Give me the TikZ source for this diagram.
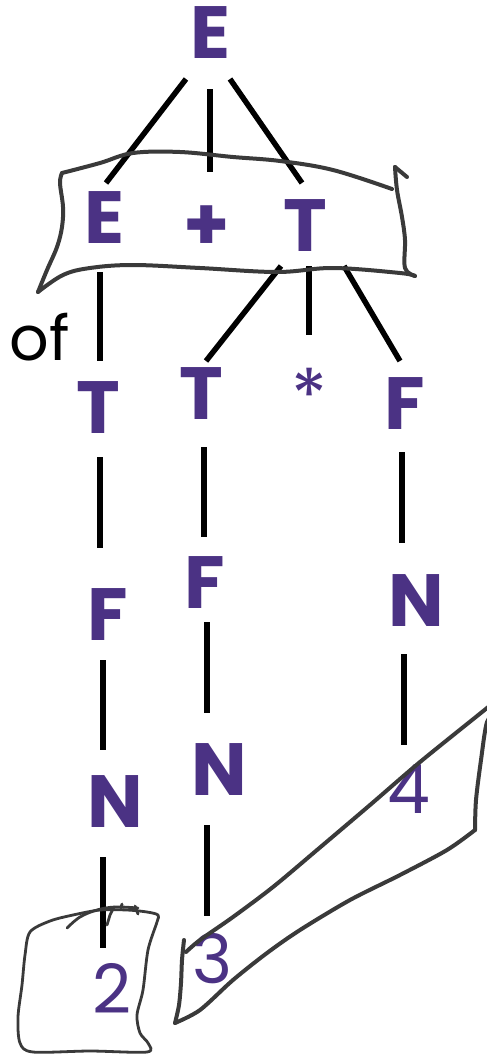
\documentclass[tikz,border=0pt]{standalone}
\usepackage{fontspec}
\setmainfont{Poppins}
\usetikzlibrary{calc}
\definecolor{sympurple}{RGB}{75,50,132}
\definecolor{pen}{RGB}{58,58,58}
\tikzset{
  sym/.style={text=sympurple, inner sep=0pt, anchor=center, font=\fontsize{74}{80}\selectfont\bfseries},
  num/.style={text=sympurple, inner sep=0pt, anchor=center, font=\fontsize{68}{74}\selectfont},
  star/.style={text=sympurple, inner sep=0pt, anchor=center, font=\fontsize{74}{80}\selectfont},
  plain/.style={text=black, inner sep=0pt, anchor=center, font=\fontsize{62}{70}\selectfont},
  edge/.style={draw=black, line width=5.5pt},
  sketch/.style={draw=pen, line width=4pt, line cap=round, line join=round}
}
\begin{document}
\begin{tikzpicture}[x=1pt,y=-1pt]
\useasboundingbox (0,0) rectangle (487,1055);
\clip (0,0) rectangle (487,1055);
% nodes
\node[sym] (Etop) at (211,33) {E};
\node[sym] (E2) at (105,218) {E};
\node[sym] (Plus) at (207,228) {+};
\node[sym] (T2) at (305,226) {T};
\node[plain] (Of) at (40,337) {of};
\node[sym] (Tl) at (98,408) {T};
\node[sym] (Tm) at (201,394) {T};
\node[star] (Star) at (309,395) {*};
\node[sym] (Fr) at (405,404) {F};
\node[sym] (Fl) at (108,615) {F};
\node[sym] (Fm) at (205,583) {F};
\node[sym] (Nr) at (416,601) {N};
\node[sym] (Nl) at (115,802) {N};
\node[sym] (Nm) at (219,770) {N};
\node[num] (Four) at (409,789) {4};
\node[num] (Two) at (112,988) {2};
\node[num] (Three) at (213,959) {3};
% connectors
\draw[edge] ($(Etop)+(-25,46)$) -- ($(E2)+(1,-35)$);
\draw[edge] ($(Etop)+(-1,56)$) -- ($(Plus)+(3,-56)$);
\draw[edge] ($(Etop)+(19,46)$) -- ($(T2)+(-3,-43)$);
\draw[edge] ($(E2)+(-5,54)$) -- ($(Tl)+(2,-47)$);
\draw[edge] ($(T2)+(-24,40)$) -- ($(Tm)+(5,-33)$);
\draw[edge] ($(T2)+(4,40)$) -- ($(Star)+(0,-60)$);
\draw[edge] ($(T2)+(39,40)$) -- ($(Fr)+(-5,-43)$);
\draw[edge] ($(Tl)+(2,49)$) -- ($(Fl)+(-8,-67)$);
\draw[edge] ($(Tm)+(3,53)$) -- ($(Fm)+(-1,-46)$);
\draw[edge] ($(Fr)+(-3,48)$) -- ($(Nr)+(-14,-58)$);
\draw[edge] ($(Fl)+(-5,45)$) -- ($(Nl)+(-12,-52)$);
\draw[edge] ($(Fm)+(2,39)$) -- ($(Nm)+(-12,-57)$);
\draw[edge] ($(Nr)+(-12,53)$) -- ($(Four)+(-5,-44)$);
\draw[edge] ($(Nl)+(-12,55)$) -- ($(Two)+(-9,-40)$);
\draw[edge] ($(Nm)+(-12,55)$) -- ($(Three)+(-6,-43)$);
% banner around E + T
\draw[sketch] plot[smooth, tension=0.6] coordinates {(62,173) (100,163) (133,153) (180,152) (233,157) (280,161) (333,170) (392,189)};
\draw[sketch] (395,167) -- (407,177);
\draw[sketch] plot[smooth, tension=0.6] coordinates {(395,167) (397,190) (402,217) (405,240) (405,268) (415,276)};
\draw[sketch] plot[smooth, tension=0.6] coordinates {(415,276) (400,273) (333,268) (277,272) (200,268) (133,265) (90,268) (63,275) (38,292)};
\draw[sketch] plot[smooth, tension=0.6] coordinates {(38,292) (47,270) (57,247) (62,227) (63,207) (60,183) (62,173)};
% box around 2
\draw[sketch, line width=2.8pt] plot[smooth cycle, tension=0.5] coordinates {(30,932) (25,955) (22,985) (18,1017) (20,1043) (33,1052) (90,1051) (147,1052) (148,1043) (140,1033) (137,1015) (143,990) (148,950) (157,922) (158,915) (147,912) (127,910) (100,910) (73,915) (50,921)};
\draw[sketch, line width=2.8pt] plot[smooth, tension=0.6] coordinates {(67,928) (80,917) (97,910) (115,907) (138,908)};
\draw[sketch, line width=2.8pt] (107,925) -- (110,915) -- (114,907);
\draw[sketch, line width=2.8pt] (121,908) -- (122,904);
\draw[sketch, line width=2.8pt] (135,906) -- (138,914);
% wedge from 3 towards 4
\draw[sketch] plot[smooth, tension=0.5] coordinates {(175,1023) (179,1005) (181,983) (182,960) (184,940)};
\draw[sketch] plot[smooth, tension=0.5] coordinates {(186,952) (200,940) (233,917) (273,887) (317,850) (370,805) (420,762) (487,708) (500,697)};
\draw[sketch] plot[smooth, tension=0.5] coordinates {(497,710) (487,722) (481,760) (476,800) (475,830)};
\draw[sketch] plot[smooth, tension=0.5] coordinates {(475,830) (447,850) (400,875) (350,900) (300,930) (267,953) (233,980) (200,1010) (175,1023)};
\end{tikzpicture}
\end{document}
